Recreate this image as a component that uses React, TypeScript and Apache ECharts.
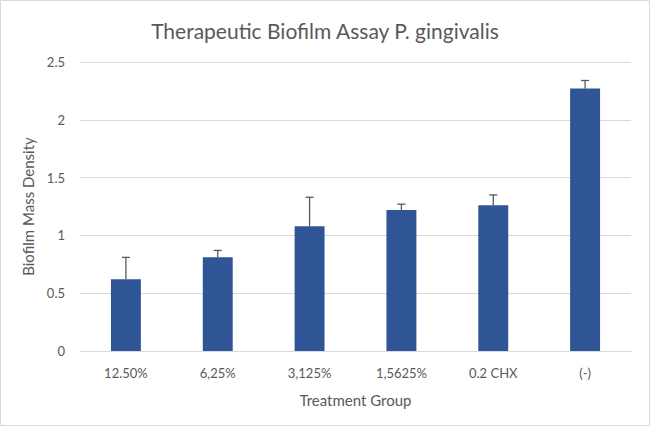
import React, { useEffect, useRef } from "react";
import * as echarts from "echarts";

const categories = ["12.50%", "6,25%", "3,125%", "1,5625%", "0.2 CHX", "(-)"];
const means = [0.62, 0.81, 1.08, 1.22, 1.26, 2.27];
const errors = [0.19, 0.06, 0.25, 0.05, 0.09, 0.07];
const yTicks = { min: 0, max: 2.5, interval: 0.5 };

const FONT = "Lato, 'Open Sans', sans-serif";
const TXT = "#595959";

export default function App() {
  const ref = useRef<HTMLDivElement>(null);
  useEffect(() => {
    document.body.style.margin = "0";
    const chart = echarts.init(ref.current!, undefined, { renderer: "svg" });
    chart.setOption({
      animation: false,
      backgroundColor: "#ffffff",
      textStyle: { fontFamily: FONT },
      title: {
        text: "Therapeutic Biofilm Assay P. gingivalis",
        left: "center",
        top: 15,
        textStyle: { fontFamily: FONT, fontSize: 21, fontWeight: "normal", color: TXT },
      },
      graphic: [
        {
          type: "rect",
          shape: { x: 0.5, y: 0.5, width: 649, height: 425 },
          style: { fill: "none", stroke: "#d9d9d9", lineWidth: 1 },
          silent: true,
        },
      ],
      grid: { left: 80, right: 19, top: 62, bottom: 75, containLabel: false },
      xAxis: {
        type: "category",
        data: categories,
        axisLine: { lineStyle: { color: "#d9d9d9" } },
        axisTick: { show: false },
        axisLabel: { color: TXT, fontSize: 13, fontFamily: FONT, margin: 15 },
        name: "Treatment Group",
        nameLocation: "middle",
        nameGap: 41,
        nameTextStyle: { color: TXT, fontSize: 15, fontFamily: FONT },
      },
      yAxis: {
        type: "value",
        min: yTicks.min,
        max: yTicks.max,
        interval: yTicks.interval,
        axisLine: { show: false },
        axisTick: { show: false },
        splitLine: { lineStyle: { color: "#d9d9d9" } },
        axisLabel: { color: TXT, fontSize: 13, fontFamily: FONT, margin: 15 },
        name: "Biofilm Mass Density",
        nameLocation: "middle",
        nameGap: 41,
        nameRotate: 90,
        nameTextStyle: { color: TXT, fontSize: 15, fontFamily: FONT },
      },
      series: [
        {
          type: "bar",
          data: means,
          barWidth: "32.6%",
          itemStyle: { color: "#2f5597" },
        },
        {
          type: "custom",
          data: means.map((m, i) => [i, m, m + errors[i]]),
          z: 10,
          renderItem: (params: any, api: any) => {
            const x = api.value(0);
            const lo = api.coord([x, api.value(1)]);
            const hi = api.coord([x, api.value(2)]);
            const cap = 4;
            const style = { stroke: "#595959", lineWidth: 1.3 };
            return {
              type: "group",
              children: [
                { type: "line", shape: { x1: lo[0], y1: lo[1], x2: hi[0], y2: hi[1] }, style },
                { type: "line", shape: { x1: hi[0] - cap, y1: hi[1], x2: hi[0] + cap, y2: hi[1] }, style },
              ],
            };
          },
        },
      ],
    });
    return () => chart.dispose();
  }, []);
  return <div ref={ref} style={{ width: 650, height: 426 }} />;
}
